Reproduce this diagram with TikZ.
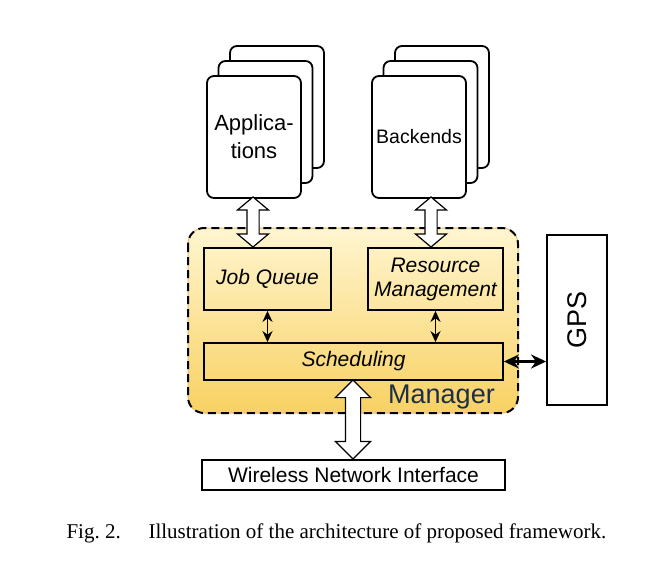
\documentclass[tikz,border=0pt]{standalone}
\usepackage{fontspec}
\setmainfont{Liberation Sans}
\newfontfamily\captionfont{Liberation Serif}
\usetikzlibrary{calc,shapes.arrows,arrows.meta}
\frenchspacing

\definecolor{mgrtop}{HTML}{FFF5CF}
\definecolor{mgrbottom}{HTML}{F8D163}
\definecolor{mgredge}{HTML}{E2BE6A}
\definecolor{mgrtext}{HTML}{1C2E4A}

\begin{document}
\begin{tikzpicture}[x=1pt,y=-1pt,
	card/.style={draw,line width=1.8pt,rounded corners=7pt,fill=white,
		minimum width=94pt,minimum height=122pt,inner sep=0pt},
	block/.style={draw,line width=1.8pt,inner sep=0pt},
	hollow/.style={double arrow,draw,line width=1.2pt,fill=white,rotate=90,
		double arrow head extend=9.5pt,inner sep=5.5pt,double arrow tip angle=100},
	thinlink/.style={line width=1.8pt,{Stealth[length=11pt,width=10pt]}-{Stealth[length=11pt,width=10pt]}},
]

	\useasboundingbox (0,0) rectangle (667,560);

	% manager area

	\path[top color=mgrtop,bottom color=mgrbottom,draw=mgredge,line width=1pt,rounded corners=16pt]
		(188,228) rectangle (518,413);
	\draw[line width=2pt,dash pattern=on 8pt off 5pt,rounded corners=16pt]
		(188,228) rectangle (518,413);
	\node[font=\fontsize{27}{30}\selectfont,text=mgrtext,anchor=base] (mgr) at (441.5,403) {Manager};

	% stacked cards

	\node[card] (app3) at (277,107) {};
	\node[card] (app2) at (265.5,122) {};
	\node[card,align=center,font=\fontsize{22}{28}\selectfont] (app) at (254,137) {Applica-\\tions};

	\node[card] (be3) at (442,107) {};
	\node[card] (be2) at (430.5,122) {};
	\node[card,font=\fontsize{19.5}{24}\selectfont] (be) at (419,137) {Backends};

	% inner blocks

	\node[block,minimum width=127pt,minimum height=62pt,font=\fontsize{21}{25}\selectfont\itshape]
		(jq) at (267.5,279) {Job Queue};
	\node[block,minimum width=135pt,minimum height=62pt,align=center,font=\fontsize{21}{24}\selectfont\itshape]
		(rm) at (435.5,279) {Resource\\Management};
	\node[block,minimum width=299pt,minimum height=37pt,font=\fontsize{21}{25}\selectfont\itshape]
		(sched) at (353.5,361.5) {Scheduling};

	\node[block,fill=white,minimum width=60pt,minimum height=170pt] (gps) at (577,320) {};
	\node[rotate=90,font=\fontsize{27}{30}\selectfont] at (gps) {GPS};
	\node[block,fill=white,minimum width=303pt,minimum height=30pt,font=\fontsize{21}{25}\selectfont]
		(wni) at (353.5,475) {Wireless Network Interface};

	% links

	\node[hollow,minimum height=50pt] (a1) at (253,222) {};
	\node[hollow,minimum height=50pt] (a2) at (431,222) {};
	\node[hollow,minimum height=79pt,inner sep=7pt,double arrow head extend=10pt,double arrow tip angle=90] (a3) at (353,419.5) {};

	\draw[thinlink] (jq.south) -- (jq.south|-sched.north);
	\draw[thinlink] (rm.south) -- (rm.south|-sched.north);
	\draw[line width=2.8pt,{Stealth[length=15pt,width=14pt]}-{Stealth[length=15pt,width=14pt]}]
		(sched.east) -- (gps.west|-sched.east);

	% caption

	\node[anchor=base west,font=\captionfont\fontsize{21}{25}\selectfont] (fig) at (63,538) {Fig. 2.};
	\node[anchor=base west,font=\captionfont\fontsize{21}{25}\selectfont] (cap) at (145,538)
		{Illustration of the architecture of proposed framework.};

\end{tikzpicture}
\end{document}
